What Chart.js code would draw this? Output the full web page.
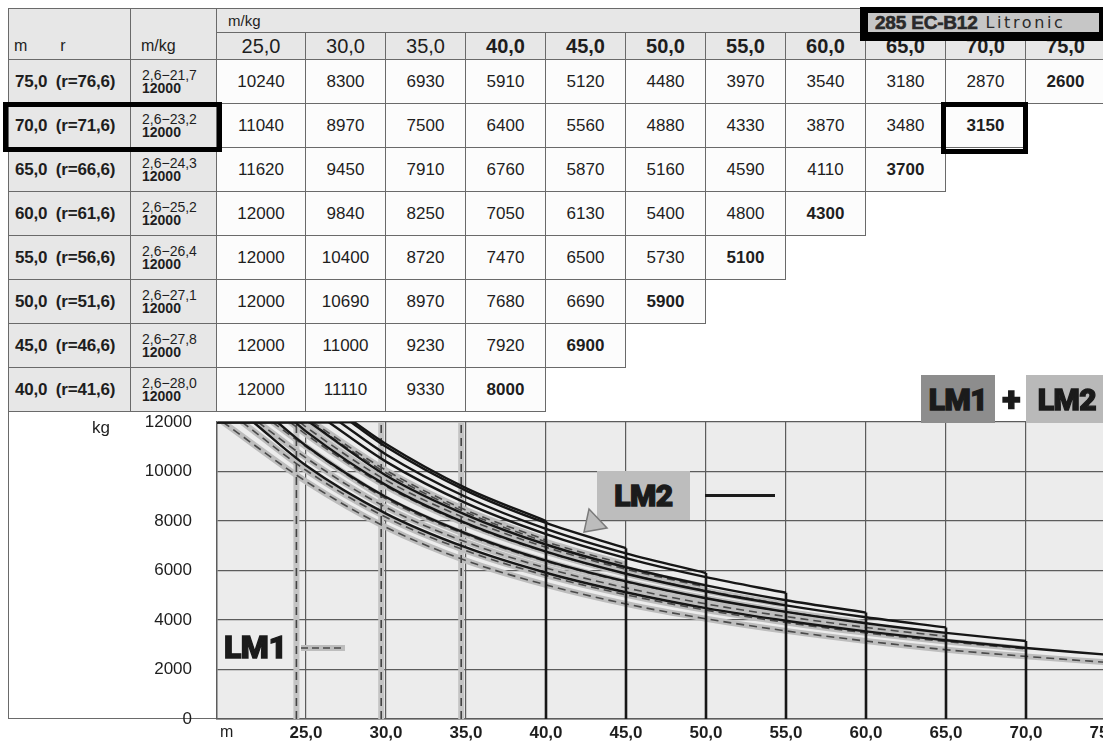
<!DOCTYPE html>
<html><head><meta charset="utf-8">
<script src="https://cdn.jsdelivr.net/npm/chart.js@4.4.1/dist/chart.umd.min.js"></script>
<style>
html,body{margin:0;padding:0;background:#fff;}
body{width:1103px;height:742px;overflow:hidden;position:relative;font-family:"Liberation Sans",Arial,sans-serif;color:#1e1e1e;}
.c{position:absolute;box-sizing:border-box;display:flex;align-items:center;justify-content:center;white-space:nowrap;}
#c{position:absolute;left:0;top:415px;z-index:2;}
.ov{position:absolute;z-index:5;}
.lm{font-family:Roboto,Lato,"DejaVu Sans",sans-serif;font-weight:900;color:#1b1b1b;letter-spacing:-0.5px;-webkit-text-stroke:1.3px #1b1b1b;}
</style></head><body>
<div id="page"></div>
<canvas id="c" width="1186" height="327"></canvas>
<script>
// ---------- DATA ----------
const radii = [25, 30, 35, 40, 45, 50, 55, 60, 65, 70, 75];
const yTicks = [0, 2000, 4000, 6000, 8000, 10000, 12000];
const jibLengths = [75, 70, 65, 60, 55, 50, 45, 40];
const rowLabels = ['75,0 (r=76,6)', '70,0 (r=71,6)', '65,0 (r=66,6)', '60,0 (r=61,6)', '55,0 (r=56,6)', '50,0 (r=51,6)', '45,0 (r=46,6)', '40,0 (r=41,6)'];
const rangeLabels = ['2,6\u221221,7', '2,6\u221223,2', '2,6\u221224,3', '2,6\u221225,2', '2,6\u221226,4', '2,6\u221227,1', '2,6\u221227,8', '2,6\u221228,0'];
const minRadius = 2.6;
const maxLoad = 12000;
const lm2Knee = [21.7, 23.2, 24.3, 25.2, 26.4, 27.1, 27.8, 28.0];
const lm2Jib75 = [10240, 8300, 6930, 5910, 5120, 4480, 3970, 3540, 3180, 2870, 2600];
const lm2Jib70 = [11040, 8970, 7500, 6400, 5560, 4880, 4330, 3870, 3480, 3150];
const lm2Jib65 = [11620, 9450, 7910, 6760, 5870, 5160, 4590, 4110, 3700];
const lm2Jib60 = [12000, 9840, 8250, 7050, 6130, 5400, 4800, 4300];
const lm2Jib55 = [12000, 10400, 8720, 7470, 6500, 5730, 5100];
const lm2Jib50 = [12000, 10690, 8970, 7680, 6690, 5900];
const lm2Jib45 = [12000, 11000, 9230, 7920, 6900];
const lm2Jib40 = [12000, 11110, 9330, 8000];
// LM1 curves (dashed)
const lm1Knee = [19.8, 21.0, 22.0, 22.9, 24.0, 24.6, 25.2, 25.4];
const lm1Jib75 = [9600, 7750, 6400, 5420, 4650, 4050, 3560, 3150, 2800, 2530, 2290];
const lm1Jib70 = [10050, 8150, 6800, 5800, 5020, 4400, 3900, 3480, 3130, 2830];
const lm1Jib65 = [10550, 8550, 7150, 6100, 5300, 4650, 4140, 3700, 3340];
const lm1Jib60 = [11000, 8900, 7450, 6370, 5540, 4880, 4330, 3880];
const lm1Jib55 = [11500, 9400, 7880, 6750, 5870, 5180, 4610];
const lm1Jib50 = [11800, 9650, 8100, 6940, 6050, 5330];
const lm1Jib45 = [12000, 9950, 8350, 7160, 6240];
const lm1Jib40 = [12000, 10050, 8440, 7230];
const lm1Verticals = [24.4, 29.7, 34.7];

const lm2Rows = [lm2Jib75, lm2Jib70, lm2Jib65, lm2Jib60, lm2Jib55, lm2Jib50, lm2Jib45, lm2Jib40];
const lm1Rows = [lm1Jib75, lm1Jib70, lm1Jib65, lm1Jib60, lm1Jib55, lm1Jib50, lm1Jib45, lm1Jib40];

const fmt = v => v.toFixed(1).replace('.', ',');

// ---------- TABLE (HTML) ----------
const page = document.getElementById('page');
const colEdges = [8, 131, 217, 306, 386, 466, 546, 626, 706, 786, 866, 946, 1026, 1106];
const LINE = '1.5px solid #6a6a6a';
const GREY = '#e7e7e7', WHITE = '#fcfcfc';
function cell(x0, x1, y0, y1, st, html) {
  const d = document.createElement('div');
  d.className = 'c';
  Object.assign(d.style, {left: x0 + 'px', top: y0 + 'px', width: (x1 - x0) + 'px', height: (y1 - y0) + 'px',
    borderRight: LINE, borderBottom: LINE}, st || {});
  d.innerHTML = html || '';
  page.appendChild(d);
  return d;
}
// header
cell(8, 131, 8, 60, {background: GREY, borderLeft: LINE, borderTop: LINE, alignItems: 'flex-end', justifyContent: 'flex-start', paddingLeft: '5px', paddingBottom: '4px', fontSize: '16px'},
  '<span>m</span><span style="margin-left:33px">r</span>');
cell(131, 217, 8, 60, {background: GREY, borderTop: LINE, alignItems: 'flex-end', justifyContent: 'flex-start', paddingLeft: '10px', paddingBottom: '4px', fontSize: '16px'}, 'm/kg');
cell(217, 1106, 8, 33, {background: GREY, borderTop: LINE, justifyContent: 'flex-start', paddingLeft: '11px', fontSize: '15px'}, 'm/kg');
radii.forEach((r, k) => {
  cell(colEdges[k + 2], colEdges[k + 3], 33, 60, {background: GREY, fontSize: '20px', fontWeight: r >= 40 ? 'bold' : 'normal'}, fmt(r));
});
// rows
jibLengths.forEach((j, i) => {
  const y0 = 60 + 44 * i, y1 = y0 + 44;
  cell(8, 131, y0, y1, {background: GREY, borderLeft: LINE, justifyContent: 'flex-start', paddingLeft: '6px', fontSize: '17px', fontWeight: 'bold', wordSpacing: '4px', letterSpacing: '-0.2px'}, rowLabels[i]);
  cell(131, 217, y0, y1, {background: GREY, flexDirection: 'column', alignItems: 'flex-start', paddingLeft: '11px', lineHeight: '13px'},
    '<span style="font-size:14px">' + rangeLabels[i] + '</span><span style="font-size:14px;font-weight:bold">' + maxLoad + '</span>');
  lm2Rows[i].forEach((v, k) => {
    const last = k === lm2Rows[i].length - 1;
    cell(colEdges[k + 2], colEdges[k + 3], y0, y1, {background: WHITE, fontSize: '17px', fontWeight: last ? 'bold' : 'normal'}, String(v));
  });
});
// left frame under the table (beside the chart)
cell(8, 217, 412, 719, {borderLeft: LINE, borderRight: 'none', background: '#fff'}, '');

function ov(html, st) {
  const d = document.createElement('div');
  d.className = 'ov';
  Object.assign(d.style, st);
  d.innerHTML = html;
  document.body.appendChild(d);
  return d;
}
// highlight boxes
ov('', {left: '3px', top: '102px', width: '219px', height: '50px', border: '5px solid #000', boxSizing: 'border-box'});
ov('', {left: '941px', top: '102px', width: '87px', height: '52px', border: '5px solid #000', boxSizing: 'border-box'});
// model badge
ov('<div style="position:absolute;left:8px;top:6px;right:4px;bottom:9px;background:#c6c6c6;display:flex;align-items:center;padding-left:7px;color:#2a2a2a;white-space:nowrap"><b style="font-size:19px;letter-spacing:-0.2px;-webkit-text-stroke:0.6px #2a2a2a">285 EC-B12</b><span style="margin-left:8px;letter-spacing:2.6px;font-family:\'DejaVu Sans\',sans-serif;font-size:16px">Litronic</span></div>',
  {left: '860px', top: '7px', width: '243px', height: '34px', background: '#000', overflow: 'hidden'});

// chart overlay labels
ov('kg', {left: '92px', top: '418px', fontSize: '17px'});
ov('m', {left: '220px', top: '723px', fontSize: '16px'});
ov('<span class="lm" style="font-size:30px">LM1</span>', {left: '921px', top: '375px', width: '74px', height: '48px', background: '#8d8d8d', display: 'flex', alignItems: 'center', justifyContent: 'center'});
ov('<span class="lm" style="font-size:34px">+</span>', {left: '998px', top: '375px', width: '26px', height: '48px', display: 'flex', alignItems: 'center', justifyContent: 'center'});
ov('<span class="lm" style="font-size:30px">LM2</span>', {left: '1026px', top: '375px', width: '82px', height: '48px', background: '#b9b9b9', display: 'flex', alignItems: 'center', justifyContent: 'center'});
ov('<span class="lm" style="font-size:30px">LM2</span>', {left: '597px', top: '471px', width: '93px', height: '49px', background: '#bdbdbd', display: 'flex', alignItems: 'center', justifyContent: 'center'});
ov('', {left: '705px', top: '494px', width: '70px', height: '3px', background: '#1b1b1b'});
ov('<svg width="30" height="30"><polygon points="6,2 24,21 1,25" fill="#bcbcbc" stroke="#7a7a7a" stroke-width="1.5"/></svg>', {left: '583px', top: '507px'});
ov('<span class="lm" style="font-size:32px">LM1</span>', {left: '224px', top: '628px'});
ov('<svg width="50" height="12"><line x1="2" y1="6" x2="46" y2="6" stroke="#bdbdbd" stroke-width="6"/><line x1="2" y1="6" x2="46" y2="6" stroke="#4a4a4a" stroke-width="1.6" stroke-dasharray="7,4"/></svg>', {left: '299px', top: '640px'});

// ---------- CHART ----------
const datasets = [];
jibLengths.forEach((j, i) => {
  const lm1Pts = [{x: lm1Knee[i], y: maxLoad}];
  lm1Rows[i].forEach((v, k) => { if (radii[k] > lm1Knee[i]) lm1Pts.push({x: radii[k], y: v}); });
  const flat1 = [{x: minRadius, y: maxLoad}, {x: lm1Knee[i], y: maxLoad}];
  datasets.push({data: lm1Pts, borderColor: '#bdbdbd', borderWidth: 6, cubicInterpolationMode: 'monotone', order: 6});
  datasets.push({data: lm1Pts, borderColor: '#4a4a4a', borderWidth: 1.6, borderDash: [8, 5], cubicInterpolationMode: 'monotone', order: 5});
  datasets.push({data: flat1, borderColor: '#4a4a4a', borderWidth: 1.6, borderDash: [8, 5], order: 5});
});
lm1Verticals.forEach(x => {
  const pts = [{x: x, y: 0}, {x: x, y: maxLoad}];
  datasets.push({data: pts, borderColor: '#c4c4c4', borderWidth: 6, order: 6});
  datasets.push({data: pts, borderColor: '#444', borderWidth: 1.6, borderDash: [8, 5], order: 5});
});
jibLengths.forEach((j, i) => {
  const pts = [{x: lm2Knee[i], y: maxLoad}];
  lm2Rows[i].forEach((v, k) => { if (radii[k] > lm2Knee[i]) pts.push({x: radii[k], y: v}); });
  datasets.push({data: pts, borderColor: '#161616', borderWidth: 2.4, cubicInterpolationMode: 'monotone', order: 2});
  datasets.push({data: [{x: minRadius, y: maxLoad}, {x: lm2Knee[i], y: maxLoad}], borderColor: '#161616', borderWidth: 2.4, order: 2});
  const last = lm2Rows[i][lm2Rows[i].length - 1];
  datasets.push({data: [{x: j, y: last}, {x: j, y: 0}], borderColor: '#161616', borderWidth: 2.6, order: 1});
});

const bgPlugin = {
  id: 'plotBg',
  beforeDraw(chart) {
    const a = chart.chartArea, ctx = chart.ctx;
    ctx.save();
    ctx.fillStyle = '#ececec';
    ctx.fillRect(a.left, a.top, a.right - a.left, a.bottom - a.top);
    ctx.restore();
  }
};

Chart.defaults.font.family = '"Liberation Sans", Arial, sans-serif';
new Chart(document.getElementById('c'), {
  type: 'line',
  data: {datasets: datasets},
  plugins: [bgPlugin],
  options: {
    responsive: false,
    animation: false,
    events: [],
    layout: {padding: {top: 7, left: 0, right: 0, bottom: 0}},
    elements: {point: {radius: 0}, line: {fill: false, borderCapStyle: 'butt'}},
    plugins: {legend: {display: false}, tooltip: {enabled: false}},
    scales: {
      x: {
        type: 'linear', min: 19.4375, max: 80,
        afterBuildTicks: s => { s.ticks = radii.map(v => ({value: v})); },
        afterFit: s => { s.height = 23; s.paddingLeft = 0; s.paddingRight = 0; },
        ticks: {callback: v => fmt(v), autoSkip: false, maxRotation: 0, padding: 4, color: '#1e1e1e', font: {size: 17, weight: 'bold'}},
        grid: {color: '#5c5c5c', lineWidth: 1.2, drawTicks: false},
        border: {display: true, color: '#5c5c5c', width: 1.5}
      },
      y: {
        min: 0, max: 12000,
        afterBuildTicks: s => { s.ticks = yTicks.map(v => ({value: v})); },
        afterFit: s => { s.width = 217; s.paddingTop = 7; s.paddingBottom = 0; },
        ticks: {callback: v => String(v), padding: 25, color: '#1e1e1e', font: {size: 17}},
        grid: {color: '#5c5c5c', lineWidth: 1.2, drawTicks: false},
        border: {display: true, color: '#5c5c5c', width: 1.5}
      }
    }
  }
});
</script>
</body></html>
